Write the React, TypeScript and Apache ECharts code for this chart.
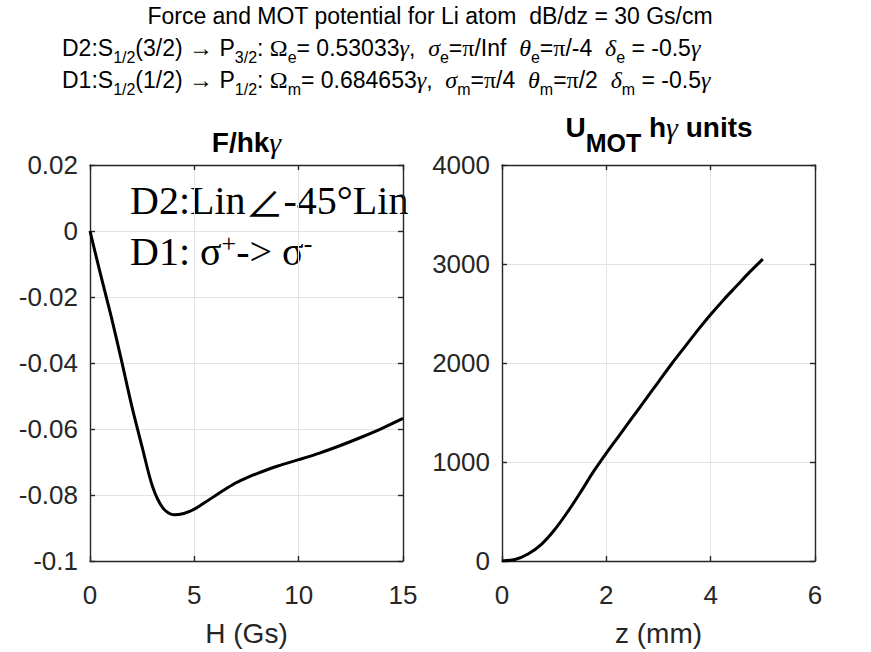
import React, { useEffect, useRef } from "react";
import * as echarts from "echarts";

// Force on the atom vs. magnetic field
const H_GS = [0, 0.5, 1, 1.5, 2, 2.5, 3, 3.5, 4, 4.5, 5, 5.5, 6, 6.5, 7, 7.5, 8, 9, 10, 11, 12, 13, 14, 15];
const FORCE = [
  0, -0.013, -0.0255, -0.039, -0.053, -0.0655, -0.0775, -0.084, -0.086, -0.0856, -0.0843,
  -0.0823, -0.0802, -0.0782, -0.0763, -0.0748, -0.0735, -0.0712, -0.0693, -0.0673, -0.065, -0.0625,
  -0.0598, -0.0568,
];

// MOT potential vs. position
const Z_MM = [0, 0.25, 0.5, 0.75, 1, 1.25, 1.5, 1.75, 2, 2.25, 2.5, 2.75, 3, 3.25, 3.5, 3.75, 4, 4.25, 4.5, 4.75, 5];
const U_MOT = [
  0, 15, 70, 165, 310, 490, 690, 900, 1090, 1270, 1450, 1630, 1810, 1990, 2160, 2330, 2490, 2640,
  2780, 2920, 3050,
];

// Tick positions
const H_TICKS = [0, 5, 10, 15];
const F_TICKS = [-0.1, -0.08, -0.06, -0.04, -0.02, 0, 0.02];
const Z_TICKS = [0, 2, 4, 6];
const U_TICKS = [0, 1000, 2000, 3000, 4000];

const SANS = "'Liberation Sans', Arial, Helvetica, sans-serif";
const SERIF = "'Liberation Serif', 'Times New Roman', serif";
const AXIS = "#262626";
const GRID = "#e3e3e3";

const range = (t: number[]) => ({ min: t[0], max: t[t.length - 1], interval: t[1] - t[0] });

function mainAxis(ticks: number[], gridIndex: number, name: string, isX: boolean, fmt: (v: number) => string) {
  return {
    type: "value",
    gridIndex,
    ...range(ticks),
    position: isX ? "bottom" : "left",
    name: isX ? name : undefined,
    nameLocation: "middle",
    nameGap: 58,
    nameTextStyle: { fontFamily: SANS, fontSize: 28, color: AXIS },
    axisLine: { show: true, onZero: false, lineStyle: { color: AXIS, width: 1.4 } },
    axisTick: { show: true, inside: true, length: 5, lineStyle: { color: AXIS, width: 1.4 } },
    axisLabel: {
      show: true,
      fontFamily: SANS,
      fontSize: 26,
      color: AXIS,
      margin: isX ? 21 : 12,
      formatter: fmt,
    },
    splitLine: { show: true, lineStyle: { color: GRID, width: 1 } },
  };
}

function boxAxis(ticks: number[], gridIndex: number, isX: boolean) {
  return {
    type: "value",
    gridIndex,
    ...range(ticks),
    position: isX ? "top" : "right",
    axisLine: { show: true, onZero: false, lineStyle: { color: AXIS, width: 1.4 } },
    axisTick: { show: true, inside: true, length: 5, lineStyle: { color: AXIS, width: 1.4 } },
    axisLabel: { show: false },
    splitLine: { show: false },
  };
}

const fmtPlain = (v: number) => String(Math.round(v * 100) / 100);

const headerRich = {
  t: { fontFamily: SANS, fontSize: 23, fill: "#000" },
  s: { fontFamily: SANS, fontSize: 16, fill: "#000", verticalAlign: "top", padding: [14, 0, 0, 0] },
  g: { fontFamily: SERIF, fontSize: 24, fontStyle: "italic", fill: "#000" },
  gu: { fontFamily: SERIF, fontSize: 24, fill: "#000" },
};

const HEADER_1 = "Force and MOT potential for Li atom  dB/dz = 30 Gs/cm";
const HEADER_2 =
  "{t|D2:S}{s|1/2}{t|(3/2) }{gu|→}{t| P}{s|3/2}{t|: }{gu|Ω}{s|e}{t|= 0.53033}{g|γ}{t|,  }{g|σ}{s|e}{t|=}{gu|π}{t|/Inf  }{g|θ}{s|e}{t|=}{gu|π}{t|/-4  }{g|δ}{s|e}{t| = -0.5}{g|γ}";
const HEADER_3 =
  "{t|D1:S}{s|1/2}{t|(1/2) }{gu|→}{t| P}{s|1/2}{t|: }{gu|Ω}{s|m}{t|= 0.684653}{g|γ}{t|,  }{g|σ}{s|m}{t|=}{gu|π}{t|/4  }{g|θ}{s|m}{t|=}{gu|π}{t|/2  }{g|δ}{s|m}{t| = -0.5}{g|γ}";

export default function App() {
  const ref = useRef<HTMLDivElement>(null);

  useEffect(() => {
    if (!ref.current) return;
    const chart = echarts.init(ref.current, undefined, { renderer: "svg" });

    const option = {
      animation: false,
      backgroundColor: "#fff",
      grid: [
        { left: 90, top: 165, width: 313, height: 401, containLabel: false },
        { left: 502, top: 165, width: 313, height: 401, containLabel: false },
      ],
      xAxis: [
        mainAxis(H_TICKS, 0, "H (Gs)", true, fmtPlain),
        boxAxis(H_TICKS, 0, true),
        mainAxis(Z_TICKS, 1, "z (mm)", true, fmtPlain),
        boxAxis(Z_TICKS, 1, true),
      ],
      yAxis: [
        mainAxis(F_TICKS, 0, "", false, fmtPlain),
        boxAxis(F_TICKS, 0, false),
        mainAxis(U_TICKS, 1, "", false, fmtPlain),
        boxAxis(U_TICKS, 1, false),
      ],
      series: [
        {
          type: "line",
          xAxisIndex: 0,
          yAxisIndex: 0,
          data: H_GS.map((h, i) => [h, FORCE[i]]),
          smooth: 0.3,
          showSymbol: false,
          lineStyle: { color: "#000", width: 3 },
        },
        {
          type: "line",
          xAxisIndex: 2,
          yAxisIndex: 2,
          data: Z_MM.map((z, i) => [z, U_MOT[i]]),
          smooth: 0.3,
          showSymbol: false,
          lineStyle: { color: "#000", width: 3 },
        },
      ],
      graphic: [
        {
          type: "text",
          x: 430,
          y: 16,
          style: { text: HEADER_1, fontFamily: SANS, fontSize: 23, fill: "#000", align: "center", verticalAlign: "middle" },
        },
        {
          type: "text",
          x: 62,
          y: 48,
          style: { text: HEADER_2, rich: headerRich, lineHeight: 26, align: "left", verticalAlign: "middle" },
        },
        {
          type: "text",
          x: 62,
          y: 80,
          style: { text: HEADER_3, rich: headerRich, lineHeight: 26, align: "left", verticalAlign: "middle" },
        },
        {
          type: "text",
          x: 246.5,
          y: 142,
          style: {
            text: "{b|F/hk}{g|γ}",
            align: "center",
            verticalAlign: "middle",
            lineHeight: 30,
            rich: {
              b: { fontFamily: SANS, fontSize: 28, fontWeight: "bold", fill: "#000" },
              g: { fontFamily: SERIF, fontSize: 30, fontStyle: "italic", fill: "#000" },
            },
          },
        },
        {
          type: "text",
          x: 659,
          y: 127,
          style: {
            text: "{b|U}{s|MOT}{b| h}{g|γ}{b| units}",
            align: "center",
            verticalAlign: "middle",
            lineHeight: 30,
            rich: {
              b: { fontFamily: SANS, fontSize: 28, fontWeight: "bold", fill: "#000" },
              s: { fontFamily: SANS, fontSize: 25, fontWeight: "bold", fill: "#000", verticalAlign: "top", padding: [18, 0, 0, 0] },
              g: { fontFamily: SERIF, fontSize: 30, fontStyle: "italic", fill: "#000" },
            },
          },
        },
        {
          type: "text",
          x: 130,
          y: 200.6,
          style: {
            text: "{a|D2:Lin}{ang|∠}{a|-45°Lin}",
            align: "left",
            verticalAlign: "middle",
            lineHeight: 46,
            rich: {
              a: { fontFamily: SERIF, fontSize: 40, fill: "#000" },
              ang: { fontFamily: "'Noto Sans CJK SC', 'DejaVu Sans', sans-serif", fontSize: 38, fill: "#000" },
            },
          },
        },
        {
          type: "text",
          x: 130,
          y: 251.6,
          style: {
            text: "{a|D1: σ}{p|+}{a|-> σ}{p|-}",
            align: "left",
            verticalAlign: "middle",
            lineHeight: 46,
            rich: {
              a: { fontFamily: SERIF, fontSize: 40, fill: "#000" },
              p: { fontFamily: SERIF, fontSize: 26, fill: "#000", verticalAlign: "top", padding: [2, 0, 0, 0] },
            },
          },
        },
      ],
    };

    chart.setOption(option as any);
    return () => chart.dispose();
  }, []);

  return (
    <div
      ref={ref}
      style={{ position: "fixed", left: 0, top: 0, width: 871, height: 652, background: "#fff" }}
    />
  );
}
